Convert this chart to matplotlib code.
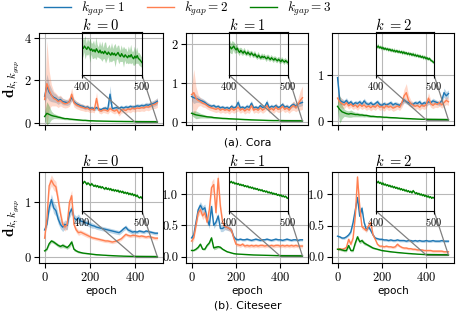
import matplotlib
matplotlib.use("Agg")
import matplotlib.pyplot as plt
import numpy as np
from matplotlib.lines import Line2D
from matplotlib.ticker import FormatStrFormatter
from mpl_toolkits.axes_grid1.inset_locator import mark_inset

plt.rcParams['mathtext.fontset'] = 'cm'
plt.rcParams['font.family'] = 'cmr10'
plt.rcParams['axes.formatter.use_mathtext'] = True

# epochs: every 10 for blue / coral, green is every 10 up to 390 then every 2 (zoomed part)
epochs = np.arange(0, 501, 10)
green_epochs = np.concatenate([np.arange(0, 400, 10), np.arange(400, 501, 2)])

# ---------------- Cora, k = 0 ----------------
c0_blue = [1.25, 1.75, 1.45, 1.30, 1.20, 1.15, 1.05, 1.10, 1.00, 0.98,
           0.95, 1.00, 1.20, 1.00, 0.90, 0.85, 0.80, 0.78, 0.72, 0.75,
           0.68, 0.70, 0.66, 0.72, 0.65, 0.62, 0.68, 0.70, 0.64, 1.35,
           0.66, 0.70, 0.72, 0.68, 0.74, 0.70, 0.75, 0.72, 0.78, 0.74,
           0.76, 0.80, 0.78, 0.82, 0.80, 0.85, 0.83, 0.88, 0.90, 0.95,
           1.02]
c0_blue_sd = [0.30, 0.55, 0.40, 0.30, 0.22, 0.20, 0.18, 0.16, 0.15, 0.14,
              0.13, 0.13, 0.16, 0.12, 0.12, 0.11, 0.10, 0.10, 0.10, 0.10,
              0.09, 0.09, 0.09, 0.10, 0.09, 0.09, 0.09, 0.10, 0.09, 0.40,
              0.09, 0.09, 0.10, 0.09, 0.10, 0.09, 0.10, 0.10, 0.10, 0.10,
              0.10, 0.11, 0.10, 0.11, 0.11, 0.12, 0.12, 0.13, 0.14, 0.15,
              0.16]
c0_coral = [1.10, 1.85, 1.55, 1.30, 1.15, 1.10, 1.00, 1.05, 0.95, 0.90,
            0.92, 1.00, 1.35, 0.95, 0.85, 0.80, 0.75, 0.72, 0.68, 0.70,
            0.62, 0.65, 0.60, 1.15, 0.60, 0.55, 0.62, 0.60, 0.55, 0.68,
            0.60, 0.55, 0.62, 0.45, 0.60, 0.62, 0.58, 0.66, 0.62, 0.70,
            0.65, 0.70, 0.68, 0.72, 0.70, 0.76, 0.74, 0.80, 0.85, 0.88,
            0.95]
c0_coral_sd = [0.30, 2.00, 0.90, 0.50, 0.35, 0.30, 0.28, 0.25, 0.22, 0.20,
               0.20, 0.22, 0.30, 0.20, 0.18, 0.17, 0.16, 0.15, 0.15, 0.15,
               0.14, 0.14, 0.13, 0.30, 0.13, 0.13, 0.13, 0.14, 0.13, 0.13,
               0.13, 0.13, 0.14, 0.13, 0.14, 0.14, 0.14, 0.14, 0.15, 0.15,
               0.15, 0.15, 0.15, 0.16, 0.16, 0.16, 0.17, 0.17, 0.18, 0.20,
               0.22]
c0_green = [0.30, 0.45, 0.40, 0.35, 0.32, 0.30, 0.27, 0.25, 0.22, 0.20,
            0.20, 0.18, 0.17, 0.16, 0.15, 0.14, 0.13, 0.12, 0.12, 0.11,
            0.10, 0.10, 0.095, 0.09, 0.088, 0.085, 0.082, 0.08, 0.078, 0.075,
            0.073, 0.072, 0.07, 0.069, 0.068, 0.066, 0.065, 0.064, 0.063, 0.062,
            0.0600, 0.0592, 0.0605, 0.0596, 0.0588, 0.0601, 0.0594, 0.0583, 0.0590, 0.0578,
            0.0586, 0.0575, 0.0591, 0.0580, 0.0571, 0.0584, 0.0569, 0.0576, 0.0566, 0.0579,
            0.0570, 0.0562, 0.0574, 0.0565, 0.0558, 0.0571, 0.0560, 0.0568, 0.0556, 0.0563,
            0.0572, 0.0559, 0.0551, 0.0566, 0.0555, 0.0548, 0.0560, 0.0552, 0.0545, 0.0557,
            0.0549, 0.0561, 0.0547, 0.0540, 0.0553, 0.0544, 0.0556, 0.0541, 0.0536, 0.0528,
            0.0520]
c0_green_sd = [0.20, 0.55, 0.40, 0.20, 0.12, 0.10, 0.08, 0.07, 0.06, 0.05,
               0.05, 0.045, 0.04, 0.04, 0.035, 0.035, 0.03, 0.03, 0.028, 0.026,
               0.025, 0.024, 0.022, 0.02, 0.02, 0.018, 0.018, 0.016, 0.016, 0.015,
               0.015, 0.014, 0.013, 0.012, 0.012, 0.011, 0.011, 0.01, 0.01, 0.01,
               0.0030, 0.0048, 0.0032, 0.0060, 0.0028, 0.0046, 0.0031, 0.0065, 0.0029, 0.0040,
               0.0047, 0.0030, 0.0058, 0.0032, 0.0027, 0.0044, 0.0033, 0.0052, 0.0029, 0.0041,
               0.0055, 0.0031, 0.0026, 0.0047, 0.0032, 0.0050, 0.0030, 0.0039, 0.0060, 0.0029,
               0.0035, 0.0048, 0.0027, 0.0043, 0.0031, 0.0054, 0.0030, 0.0040, 0.0028, 0.0046,
               0.0032, 0.0050, 0.0029, 0.0036, 0.0049, 0.0030, 0.0042, 0.0027, 0.0033, 0.0029,
               0.0026]

# ---------------- Cora, k = 1 ----------------
c1_blue = [0.65, 0.62, 0.60, 0.58, 0.55, 0.53, 0.50, 0.45, 0.42, 0.40,
           0.42, 0.38, 0.40, 0.36, 0.38, 0.35, 0.37, 0.34, 0.40, 0.36,
           0.38, 0.50, 0.36, 0.38, 0.35, 0.40, 0.37, 0.48, 0.36, 0.38,
           0.35, 0.42, 0.37, 0.39, 0.50, 0.36, 0.40, 0.38, 0.42, 0.37,
           0.39, 0.45, 0.38, 0.40, 0.36, 0.42, 0.45, 0.40, 0.46, 0.48,
           0.50]
c1_blue_sd = [0.10, 0.15, 0.10, 0.08, 0.07, 0.07, 0.06, 0.06, 0.06, 0.05,
              0.05, 0.05, 0.05, 0.05, 0.05, 0.05, 0.05, 0.05, 0.06, 0.05,
              0.05, 0.08, 0.05, 0.05, 0.05, 0.06, 0.05, 0.07, 0.05, 0.05,
              0.05, 0.06, 0.05, 0.05, 0.08, 0.05, 0.06, 0.05, 0.06, 0.05,
              0.05, 0.06, 0.05, 0.06, 0.05, 0.06, 0.07, 0.06, 0.07, 0.08,
              0.08]
c1_coral = [0.70, 0.75, 0.60, 0.55, 0.52, 0.48, 0.46, 0.42, 0.38, 0.36,
            0.34, 0.32, 0.35, 0.30, 0.33, 0.30, 0.32, 0.28, 0.35, 0.30,
            0.33, 0.38, 0.30, 0.34, 0.28, 0.33, 0.30, 0.42, 0.30, 0.33,
            0.30, 0.36, 0.30, 0.34, 0.42, 0.30, 0.35, 0.30, 0.38, 0.32,
            0.34, 0.40, 0.32, 0.36, 0.30, 0.38, 0.42, 0.36, 0.45, 0.55,
            0.62]
c1_coral_sd = [0.20, 0.60, 0.30, 0.15, 0.10, 0.10, 0.09, 0.09, 0.08, 0.08,
               0.08, 0.08, 0.09, 0.08, 0.08, 0.08, 0.08, 0.08, 0.09, 0.08,
               0.08, 0.10, 0.08, 0.08, 0.08, 0.09, 0.08, 0.10, 0.08, 0.08,
               0.08, 0.09, 0.08, 0.08, 0.10, 0.08, 0.09, 0.08, 0.10, 0.08,
               0.09, 0.10, 0.08, 0.09, 0.08, 0.10, 0.12, 0.10, 0.15, 0.25,
               0.30]
c1_green = [0.22, 0.20, 0.18, 0.17, 0.16, 0.15, 0.14, 0.13, 0.125, 0.12,
            0.11, 0.105, 0.10, 0.095, 0.09, 0.088, 0.085, 0.08, 0.078, 0.075,
            0.072, 0.07, 0.066, 0.063, 0.06, 0.058, 0.055, 0.052, 0.05, 0.048,
            0.046, 0.044, 0.042, 0.04, 0.038, 0.036, 0.035, 0.034, 0.034, 0.033,
            0.0330, 0.0334, 0.0326, 0.0331, 0.0337, 0.0328, 0.0322, 0.0329, 0.0318, 0.0312,
            0.0320, 0.0314, 0.0309, 0.0317, 0.0311, 0.0305, 0.0313, 0.0307, 0.0302, 0.0310,
            0.0304, 0.0299, 0.0306, 0.0298, 0.0293, 0.0301, 0.0295, 0.0290, 0.0297, 0.0292,
            0.0296, 0.0290, 0.0287, 0.0294, 0.0289, 0.0284, 0.0291, 0.0286, 0.0282, 0.0288,
            0.0283, 0.0279, 0.0285, 0.0280, 0.0276, 0.0283, 0.0278, 0.0274, 0.0280, 0.0275,
            0.0272]
c1_green_sd = [0.05, 0.08, 0.10, 0.08, 0.06, 0.05, 0.04, 0.035, 0.03, 0.03,
               0.025, 0.025, 0.02, 0.02, 0.02, 0.018, 0.018, 0.016, 0.015, 0.015,
               0.014, 0.013, 0.012, 0.012, 0.011, 0.01, 0.01, 0.009, 0.009, 0.008,
               0.008, 0.007, 0.007, 0.006, 0.006, 0.005, 0.005, 0.005, 0.004, 0.004,
               0.0018, 0.0024, 0.0020, 0.0026, 0.0016, 0.0021, 0.0014, 0.0019, 0.0012, 0.0015,
               0.0011, 0.0014, 0.0010, 0.0013, 0.0011, 0.0009, 0.0012, 0.0010, 0.0013, 0.0009,
               0.0011, 0.0010, 0.0012, 0.0009, 0.0011, 0.0013, 0.0010, 0.0009, 0.0012, 0.0010,
               0.0011, 0.0009, 0.0013, 0.0010, 0.0012, 0.0009, 0.0011, 0.0010, 0.0012, 0.0009,
               0.0011, 0.0010, 0.0009, 0.0012, 0.0010, 0.0011, 0.0009, 0.0012, 0.0010, 0.0009,
               0.0010]

# ---------------- Cora, k = 2 ----------------
c2_blue = [0.95, 0.45, 0.42, 0.40, 0.45, 0.38, 0.42, 0.36, 0.40, 0.38,
           0.42, 0.37, 0.44, 0.38, 0.36, 0.40, 0.35, 0.38, 0.42, 0.36,
           0.34, 0.38, 0.35, 0.37, 0.40, 0.35, 0.38, 0.36, 0.34, 0.40,
           0.46, 0.42, 0.40, 0.38, 0.36, 0.40, 0.38, 0.42, 0.36, 0.40,
           0.38, 0.42, 0.40, 0.44, 0.42, 0.40, 0.38, 0.45, 0.62, 0.55,
           0.60]
c2_blue_sd = [0.10, 0.08, 0.07, 0.06, 0.06, 0.05, 0.05, 0.05, 0.05, 0.05,
              0.05, 0.05, 0.06, 0.05, 0.05, 0.05, 0.05, 0.05, 0.05, 0.05,
              0.05, 0.05, 0.05, 0.05, 0.05, 0.05, 0.05, 0.05, 0.05, 0.05,
              0.06, 0.05, 0.05, 0.05, 0.05, 0.05, 0.05, 0.05, 0.05, 0.05,
              0.05, 0.06, 0.05, 0.06, 0.05, 0.05, 0.05, 0.07, 0.10, 0.09,
              0.08]
c2_coral = [0.50, 0.42, 0.38, 0.35, 0.40, 0.33, 0.37, 0.32, 0.35, 0.30,
            0.36, 0.32, 0.35, 0.30, 0.33, 0.29, 0.33, 0.30, 0.35, 0.30,
            0.32, 0.28, 0.34, 0.30, 0.32, 0.28, 0.30, 0.33, 0.30, 0.40,
            0.55, 0.62, 0.45, 0.38, 0.35, 0.32, 0.34, 0.30, 0.35, 0.32,
            0.36, 0.50, 0.38, 0.34, 0.38, 0.36, 0.40, 0.35, 0.40, 0.45,
            0.42]
c2_coral_sd = [0.10, 0.12, 0.10, 0.08, 0.08, 0.07, 0.07, 0.07, 0.07, 0.07,
               0.07, 0.07, 0.07, 0.07, 0.07, 0.07, 0.07, 0.07, 0.07, 0.07,
               0.07, 0.07, 0.07, 0.07, 0.07, 0.07, 0.07, 0.07, 0.07, 0.10,
               0.15, 0.20, 0.12, 0.08, 0.07, 0.07, 0.07, 0.07, 0.07, 0.07,
               0.08, 0.12, 0.08, 0.07, 0.08, 0.07, 0.08, 0.07, 0.08, 0.09,
               0.08]
c2_green = [0.32, 0.25, 0.20, 0.18, 0.16, 0.15, 0.16, 0.15, 0.14, 0.14,
            0.13, 0.13, 0.12, 0.12, 0.11, 0.10, 0.10, 0.095, 0.09, 0.09,
            0.085, 0.08, 0.08, 0.075, 0.072, 0.07, 0.068, 0.065, 0.06, 0.058,
            0.055, 0.052, 0.05, 0.048, 0.045, 0.043, 0.04, 0.038, 0.036, 0.035,
            0.0355, 0.0351, 0.0357, 0.0348, 0.0352, 0.0345, 0.0349, 0.0341, 0.0346, 0.0339,
            0.0343, 0.0336, 0.0341, 0.0333, 0.0338, 0.0331, 0.0335, 0.0328, 0.0334, 0.0326,
            0.0331, 0.0324, 0.0329, 0.0321, 0.0327, 0.0319, 0.0324, 0.0316, 0.0321, 0.0314,
            0.0319, 0.0311, 0.0317, 0.0309, 0.0313, 0.0306, 0.0311, 0.0303, 0.0308, 0.0300,
            0.0305, 0.0297, 0.0302, 0.0294, 0.0298, 0.0290, 0.0295, 0.0287, 0.0283, 0.0278,
            0.0274]
c2_green_sd = [0.10, 0.30, 0.15, 0.08, 0.07, 0.07, 0.08, 0.06, 0.05, 0.05,
               0.04, 0.04, 0.035, 0.03, 0.03, 0.025, 0.025, 0.02, 0.02, 0.02,
               0.018, 0.016, 0.015, 0.014, 0.013, 0.012, 0.011, 0.01, 0.01, 0.009,
               0.009, 0.008, 0.008, 0.007, 0.007, 0.006, 0.006, 0.005, 0.005, 0.005,
               0.0010, 0.0008, 0.0012, 0.0007, 0.0009, 0.0011, 0.0008, 0.0010, 0.0007, 0.0009,
               0.0008, 0.0011, 0.0007, 0.0009, 0.0010, 0.0008, 0.0012, 0.0007, 0.0009, 0.0008,
               0.0010, 0.0007, 0.0009, 0.0011, 0.0008, 0.0010, 0.0007, 0.0009, 0.0008, 0.0011,
               0.0007, 0.0009, 0.0010, 0.0008, 0.0012, 0.0007, 0.0009, 0.0008, 0.0010, 0.0007,
               0.0009, 0.0011, 0.0008, 0.0010, 0.0007, 0.0009, 0.0008, 0.0010, 0.0007, 0.0009,
               0.0008]

# ---------------- Citeseer, k = 0 ----------------
s0_blue = [0.50, 0.60, 0.90, 1.05, 0.90, 0.85, 0.70, 0.60, 0.55, 0.60,
           0.58, 0.80, 0.88, 0.72, 0.68, 0.72, 0.66, 0.65, 0.63, 0.62,
           0.60, 0.58, 0.57, 0.55, 0.54, 0.53, 0.52, 0.51, 0.50, 0.49,
           0.48, 0.47, 0.46, 0.45, 0.48, 0.52, 0.55, 0.50, 0.48, 0.46,
           0.47, 0.46, 0.48, 0.47, 0.46, 0.48, 0.47, 0.46, 0.45, 0.44,
           0.44]
s0_blue_sd = [0.04, 0.05, 0.08, 0.10, 0.10, 0.10, 0.09, 0.08, 0.08, 0.08,
              0.08, 0.08, 0.08, 0.07, 0.07, 0.07, 0.06, 0.06, 0.05, 0.05,
              0.05, 0.05, 0.04, 0.04, 0.04, 0.04, 0.04, 0.04, 0.04, 0.04,
              0.04, 0.04, 0.04, 0.04, 0.04, 0.04, 0.04, 0.04, 0.04, 0.04,
              0.03, 0.03, 0.03, 0.03, 0.03, 0.03, 0.03, 0.03, 0.03, 0.03,
              0.03]
s0_coral = [0.35, 0.70, 1.30, 1.40, 1.32, 1.28, 1.05, 0.80, 0.60, 0.55,
            0.60, 1.00, 1.12, 0.60, 0.50, 0.45, 0.46, 0.44, 0.42, 0.40,
            0.38, 0.36, 0.35, 0.34, 0.33, 0.32, 0.31, 0.30, 0.30, 0.29,
            0.28, 0.29, 0.30, 0.32, 0.34, 0.38, 0.42, 0.40, 0.39, 0.40,
            0.40, 0.39, 0.38, 0.39, 0.38, 0.37, 0.38, 0.37, 0.36, 0.35,
            0.35]
s0_coral_sd = [0.04, 0.06, 0.10, 0.10, 0.10, 0.10, 0.09, 0.08, 0.07, 0.07,
               0.08, 0.10, 0.10, 0.06, 0.05, 0.05, 0.04, 0.04, 0.04, 0.04,
               0.03, 0.03, 0.03, 0.03, 0.03, 0.03, 0.03, 0.03, 0.03, 0.03,
               0.03, 0.03, 0.03, 0.03, 0.03, 0.03, 0.03, 0.03, 0.03, 0.03,
               0.03, 0.03, 0.03, 0.03, 0.03, 0.03, 0.03, 0.03, 0.03, 0.03,
               0.03]
s0_green = [0.12, 0.15, 0.25, 0.30, 0.28, 0.25, 0.22, 0.20, 0.22, 0.20,
            0.18, 0.22, 0.28, 0.15, 0.12, 0.10, 0.09, 0.08, 0.075, 0.07,
            0.065, 0.06, 0.055, 0.05, 0.048, 0.045, 0.042, 0.04, 0.037, 0.035,
            0.033, 0.031, 0.029, 0.027, 0.026, 0.024, 0.023, 0.022, 0.021, 0.020,
            0.0200, 0.0197, 0.0202, 0.0199, 0.0194, 0.0198, 0.0195, 0.0191, 0.0196, 0.0193,
            0.0189, 0.0192, 0.0188, 0.0191, 0.0186, 0.0189, 0.0185, 0.0188, 0.0184, 0.0182,
            0.0186, 0.0181, 0.0184, 0.0180, 0.0183, 0.0178, 0.0181, 0.0177, 0.0180, 0.0176,
            0.0179, 0.0174, 0.0177, 0.0173, 0.0176, 0.0171, 0.0174, 0.0170, 0.0173, 0.0168,
            0.0171, 0.0167, 0.0170, 0.0165, 0.0168, 0.0163, 0.0166, 0.0161, 0.0159, 0.0162,
            0.0158]
s0_green_sd = [0.02, 0.02, 0.03, 0.03, 0.03, 0.03, 0.03, 0.03, 0.04, 0.03,
               0.03, 0.04, 0.04, 0.03, 0.02, 0.02, 0.015, 0.012, 0.01, 0.01,
               0.008, 0.008, 0.007, 0.007, 0.006, 0.006, 0.005, 0.005, 0.005, 0.004,
               0.004, 0.004, 0.003, 0.003, 0.003, 0.003, 0.003, 0.002, 0.002, 0.002,
               0.0003, 0.0004, 0.0002, 0.0003, 0.0004, 0.0003, 0.0002, 0.0003, 0.0004, 0.0003,
               0.0002, 0.0003, 0.0004, 0.0002, 0.0003, 0.0003, 0.0004, 0.0002, 0.0003, 0.0004,
               0.0003, 0.0002, 0.0003, 0.0004, 0.0003, 0.0002, 0.0003, 0.0004, 0.0002, 0.0003,
               0.0003, 0.0004, 0.0002, 0.0003, 0.0004, 0.0003, 0.0002, 0.0003, 0.0003, 0.0004,
               0.0002, 0.0003, 0.0004, 0.0003, 0.0002, 0.0003, 0.0004, 0.0003, 0.0002, 0.0003,
               0.0003]

# ---------------- Citeseer, k = 1 ----------------
s1_blue = [0.30, 0.35, 0.55, 0.75, 0.82, 0.75, 0.78, 0.60, 0.50, 0.80,
           0.50, 0.55, 0.65, 0.45, 0.45, 0.48, 0.47, 0.45, 0.42, 0.32,
           0.28, 0.27, 0.28, 0.27, 0.27, 0.28, 0.27, 0.26, 0.27, 0.28,
           0.27, 0.26, 0.27, 0.27, 0.28, 0.27, 0.26, 0.27, 0.28, 0.27,
           0.27, 0.26, 0.27, 0.28, 0.27, 0.26, 0.27, 0.27, 0.26, 0.27,
           0.27]
s1_blue_sd = [0.03, 0.03, 0.05, 0.06, 0.06, 0.06, 0.06, 0.05, 0.05, 0.06,
              0.05, 0.05, 0.05, 0.05, 0.05, 0.05, 0.05, 0.04, 0.04, 0.03,
              0.02, 0.02, 0.02, 0.02, 0.02, 0.02, 0.02, 0.02, 0.02, 0.02,
              0.02, 0.02, 0.02, 0.02, 0.02, 0.02, 0.02, 0.02, 0.02, 0.02,
              0.02, 0.02, 0.02, 0.02, 0.02, 0.02, 0.02, 0.02, 0.02, 0.02,
              0.02]
s1_coral = [0.25, 0.30, 0.50, 0.70, 0.75, 0.65, 0.70, 0.55, 0.75, 1.10,
            1.15, 0.70, 1.25, 0.80, 0.55, 0.48, 0.47, 0.45, 0.42, 0.30,
            0.20, 0.19, 0.18, 0.20, 0.17, 0.18, 0.17, 0.18, 0.17, 0.18,
            0.17, 0.18, 0.18, 0.17, 0.18, 0.17, 0.18, 0.17, 0.18, 0.18,
            0.17, 0.18, 0.17, 0.18, 0.17, 0.18, 0.17, 0.18, 0.17, 0.17,
            0.17]
s1_coral_sd = [0.04, 0.04, 0.05, 0.06, 0.06, 0.06, 0.06, 0.06, 0.08, 0.10,
               0.10, 0.08, 0.10, 0.08, 0.05, 0.04, 0.04, 0.04, 0.04, 0.03,
               0.03, 0.03, 0.03, 0.03, 0.03, 0.03, 0.03, 0.03, 0.03, 0.03,
               0.03, 0.03, 0.03, 0.03, 0.03, 0.03, 0.03, 0.03, 0.03, 0.03,
               0.03, 0.03, 0.03, 0.03, 0.03, 0.03, 0.03, 0.03, 0.03, 0.03,
               0.03]
s1_green = [0.10, 0.10, 0.12, 0.15, 0.20, 0.12, 0.12, 0.18, 0.22, 0.30,
            0.14, 0.15, 0.16, 0.15, 0.12, 0.10, 0.08, 0.07, 0.06, 0.05,
            0.045, 0.042, 0.04, 0.038, 0.036, 0.034, 0.032, 0.03, 0.028, 0.027,
            0.026, 0.025, 0.024, 0.023, 0.022, 0.021, 0.02, 0.019, 0.018, 0.017,
            0.0170, 0.0168, 0.0171, 0.0167, 0.0169, 0.0165, 0.0167, 0.0164, 0.0166, 0.0162,
            0.0164, 0.0161, 0.0163, 0.0159, 0.0161, 0.0158, 0.0160, 0.0156, 0.0158, 0.0155,
            0.0157, 0.0153, 0.0155, 0.0152, 0.0154, 0.0150, 0.0152, 0.0149, 0.0151, 0.0147,
            0.0149, 0.0146, 0.0148, 0.0144, 0.0146, 0.0143, 0.0145, 0.0141, 0.0143, 0.0140,
            0.0142, 0.0138, 0.0140, 0.0137, 0.0139, 0.0135, 0.0137, 0.0134, 0.0136, 0.0132,
            0.0131]
s1_green_sd = [0.01, 0.01, 0.015, 0.02, 0.02, 0.015, 0.015, 0.02, 0.02, 0.03,
               0.03, 0.03, 0.02, 0.02, 0.015, 0.012, 0.01, 0.008, 0.007, 0.006,
               0.005, 0.005, 0.004, 0.004, 0.004, 0.004, 0.003, 0.003, 0.003, 0.003,
               0.003, 0.003, 0.002, 0.002, 0.002, 0.002, 0.002, 0.002, 0.002, 0.002,
               0.0002, 0.0003, 0.0002, 0.0002, 0.0003, 0.0002, 0.0002, 0.0003, 0.0002, 0.0002,
               0.0003, 0.0002, 0.0002, 0.0003, 0.0002, 0.0002, 0.0003, 0.0002, 0.0002, 0.0003,
               0.0002, 0.0002, 0.0003, 0.0002, 0.0002, 0.0003, 0.0002, 0.0002, 0.0003, 0.0002,
               0.0002, 0.0003, 0.0002, 0.0002, 0.0003, 0.0002, 0.0002, 0.0003, 0.0002, 0.0002,
               0.0003, 0.0002, 0.0002, 0.0003, 0.0002, 0.0002, 0.0003, 0.0002, 0.0002, 0.0003,
               0.0002]

# ---------------- Citeseer, k = 2 ----------------
s2_blue = [0.33, 0.32, 0.30, 0.30, 0.32, 0.35, 0.40, 0.55, 0.75, 0.95,
           0.65, 0.78, 0.55, 0.43, 0.48, 0.42, 0.35, 0.30, 0.29, 0.28,
           0.28, 0.27, 0.27, 0.26, 0.27, 0.26, 0.26, 0.27, 0.26, 0.26,
           0.26, 0.25, 0.26, 0.26, 0.25, 0.26, 0.25, 0.26, 0.25, 0.25,
           0.26, 0.25, 0.25, 0.26, 0.25, 0.25, 0.25, 0.26, 0.25, 0.25,
           0.25]
s2_blue_sd = [0.02, 0.02, 0.02, 0.02, 0.02, 0.02, 0.03, 0.03, 0.04, 0.04,
              0.04, 0.04, 0.03, 0.03, 0.03, 0.03, 0.02, 0.02, 0.02, 0.02,
              0.02, 0.02, 0.02, 0.02, 0.02, 0.02, 0.02, 0.02, 0.02, 0.02,
              0.02, 0.02, 0.02, 0.02, 0.02, 0.02, 0.02, 0.02, 0.02, 0.02,
              0.02, 0.02, 0.02, 0.02, 0.02, 0.02, 0.02, 0.02, 0.02, 0.02,
              0.02]
s2_coral = [0.12, 0.13, 0.12, 0.13, 0.15, 0.28, 0.20, 0.30, 0.65, 1.28,
            0.80, 0.48, 0.45, 0.42, 0.50, 0.55, 0.35, 0.28, 0.20, 0.17,
            0.17, 0.16, 0.17, 0.16, 0.16, 0.15, 0.16, 0.20, 0.17, 0.15,
            0.14, 0.14, 0.13, 0.13, 0.12, 0.12, 0.11, 0.11, 0.11, 0.10,
            0.10, 0.10, 0.10, 0.09, 0.09, 0.09, 0.09, 0.09, 0.08, 0.08,
            0.08]
s2_coral_sd = [0.02, 0.02, 0.02, 0.02, 0.02, 0.03, 0.03, 0.03, 0.04, 0.05,
               0.04, 0.04, 0.03, 0.03, 0.03, 0.03, 0.03, 0.02, 0.02, 0.02,
               0.02, 0.02, 0.02, 0.02, 0.02, 0.02, 0.02, 0.03, 0.02, 0.02,
               0.02, 0.02, 0.02, 0.02, 0.02, 0.02, 0.02, 0.02, 0.02, 0.02,
               0.02, 0.02, 0.02, 0.02, 0.02, 0.02, 0.02, 0.02, 0.02, 0.02,
               0.02]
s2_green = [0.12, 0.12, 0.11, 0.10, 0.10, 0.18, 0.10, 0.10, 0.22, 0.32,
            0.24, 0.26, 0.22, 0.20, 0.18, 0.16, 0.14, 0.13, 0.12, 0.11,
            0.10, 0.095, 0.09, 0.085, 0.08, 0.076, 0.072, 0.068, 0.065, 0.062,
            0.058, 0.055, 0.052, 0.05, 0.047, 0.045, 0.042, 0.04, 0.038, 0.036,
            0.0360, 0.0357, 0.0361, 0.0355, 0.0358, 0.0352, 0.0356, 0.0350, 0.0353, 0.0348,
            0.0351, 0.0346, 0.0349, 0.0344, 0.0347, 0.0342, 0.0345, 0.0340, 0.0343, 0.0338,
            0.0341, 0.0336, 0.0339, 0.0334, 0.0337, 0.0332, 0.0335, 0.0330, 0.0333, 0.0328,
            0.0331, 0.0326, 0.0333, 0.0329, 0.0324, 0.0327, 0.0322, 0.0325, 0.0320, 0.0323,
            0.0318, 0.0321, 0.0316, 0.0319, 0.0314, 0.0317, 0.0312, 0.0315, 0.0310, 0.0313,
            0.0311]
s2_green_sd = [0.02, 0.02, 0.02, 0.02, 0.02, 0.03, 0.02, 0.02, 0.03, 0.03,
               0.03, 0.03, 0.03, 0.02, 0.02, 0.02, 0.015, 0.012, 0.01, 0.01,
               0.008, 0.008, 0.007, 0.007, 0.006, 0.006, 0.005, 0.005, 0.005, 0.004,
               0.004, 0.004, 0.003, 0.003, 0.003, 0.003, 0.003, 0.002, 0.002, 0.002,
               0.0003, 0.0002, 0.0004, 0.0003, 0.0002, 0.0003, 0.0004, 0.0002, 0.0003, 0.0003,
               0.0002, 0.0004, 0.0003, 0.0002, 0.0003, 0.0003, 0.0004, 0.0002, 0.0003, 0.0002,
               0.0003, 0.0004, 0.0002, 0.0003, 0.0003, 0.0002, 0.0004, 0.0003, 0.0002, 0.0003,
               0.0003, 0.0002, 0.0004, 0.0003, 0.0002, 0.0003, 0.0004, 0.0002, 0.0003, 0.0003,
               0.0002, 0.0004, 0.0003, 0.0002, 0.0003, 0.0003, 0.0004, 0.0002, 0.0003, 0.0002,
               0.0003]

titles = ['0', '1', '2']
legend_labels = [r'$k_{gap}=1$', r'$k_{gap}=2$', r'$k_{gap}=3$']
colors = ['#1f77b4', '#ff7f50', '#008000']

W, H = 465, 317
fig = plt.figure(figsize=(W / 100, H / 100), dpi=100)


def px(x0, y0, x1, y1):
    # pixel box -> figure fraction
    return [x0 / W, 1 - y1 / H, (x1 - x0) / W, (y1 - y0) / H]


def draw_panel(box, inset_box, k, yticks, ylim, series, bottom_row, left_col):
    ax = fig.add_axes(px(*box))
    ax.set_axisbelow(True)
    ax.grid(True, color='#b8b8b8', lw=0.8)
    (b, bsd), (c, csd), (g, gsd) = series
    for x, y, sd, col in [(epochs, b, bsd, colors[0]), (epochs, c, csd, colors[1]),
                          (green_epochs, g, gsd, colors[2])]:
        y = np.array(y)
        sd = np.array(sd)
        ax.fill_between(x, y - sd, y + sd, color=col, alpha=0.3, lw=0)
        ax.plot(x, y, color=col, lw=1.0)
    ax.set_xlim(-25, 525)
    ax.set_ylim(*ylim)
    ax.set_xticks([0, 200, 400])
    ax.set_yticks(yticks)
    ax.tick_params(labelsize=9, length=3.5, width=0.8, pad=2)
    if not bottom_row:
        ax.set_xticklabels([])
    else:
        ax.set_xlabel('epoch', family='DejaVu Sans', fontsize=7.5, labelpad=2)
    if left_col:
        ax.set_ylabel(r'$\mathbf{d}_{k,k_{gap}}$', fontsize=11, labelpad=2)
    ax.set_title(r'$k\ =$' + k, fontsize=10.5, pad=4.1 if bottom_row else 2.4)

    # zoomed inset on the green curve, epochs 400-500
    axins = fig.add_axes(px(*inset_box))
    axins.patch.set_alpha(0)
    g = np.array(g)
    gsd = np.array(gsd)
    axins.fill_between(green_epochs, g - gsd, g + gsd, color=colors[2], alpha=0.3, lw=0)
    axins.plot(green_epochs, g, color=colors[2], lw=1.0)
    sel = green_epochs >= 400
    lo = g[sel].min()
    hi = g[sel].max()
    r = hi - lo
    axins.set_xlim(400, 500)
    axins.set_ylim(lo - 0.75 * r, hi + 0.85 * r)
    axins.set_yticks([])
    axins.set_xticks([400, 500])
    axins.tick_params(labelsize=7.5, length=2, pad=1.5)
    mark_inset(ax, axins, loc1=3, loc2=4, fc='none', ec='0.5', lw=0.9)
    return ax


cols = [(39, 163), (186, 308), (332, 454)]
inset_cols = [(82, 142), (229, 288), (376, 434)]

cora = [
    ([0, 2, 4], (-0.1, 4.23), [(c0_blue, c0_blue_sd), (c0_coral, c0_coral_sd), (c0_green, c0_green_sd)]),
    ([0, 1, 2], (-0.08, 2.28), [(c1_blue, c1_blue_sd), (c1_coral, c1_coral_sd), (c1_green, c1_green_sd)]),
    ([0, 1], (-0.09, 1.93), [(c2_blue, c2_blue_sd), (c2_coral, c2_coral_sd), (c2_green, c2_green_sd)]),
]
citeseer = [
    ([0, 1], (-0.1, 1.55), [(s0_blue, s0_blue_sd), (s0_coral, s0_coral_sd), (s0_green, s0_green_sd)]),
    ([0.0, 0.5, 1.0], (-0.1, 1.35), [(s1_blue, s1_blue_sd), (s1_coral, s1_coral_sd), (s1_green, s1_green_sd)]),
    ([0.0, 0.5, 1.0], (-0.1, 1.36), [(s2_blue, s2_blue_sd), (s2_coral, s2_coral_sd), (s2_green, s2_green_sd)]),
]

for i in range(3):
    yt, yl, ser = cora[i]
    draw_panel((cols[i][0], 33, cols[i][1], 125), (inset_cols[i][0], 32, inset_cols[i][1], 75),
               titles[i], yt, yl, ser, False, i == 0)
    yt, yl, ser = citeseer[i]
    ax = draw_panel((cols[i][0], 172, cols[i][1], 263), (inset_cols[i][0], 167, inset_cols[i][1], 211),
                    titles[i], yt, yl, ser, True, i == 0)
    if i in (1, 2):
        ax.yaxis.set_major_formatter(FormatStrFormatter('%.1f'))

fig.text(248 / W, 1 - 142.5 / H, '(a). Cora', family='DejaVu Sans', fontsize=7.8, ha='center', va='center')
fig.text(248 / W, 1 - 305 / H, '(b). Citeseer', family='DejaVu Sans', fontsize=7.8, ha='center', va='center')

handles = [Line2D([], [], color=c, lw=1.0) for c in colors]
fig.legend(handles, legend_labels, loc='center', bbox_to_anchor=(187.5 / W, 1 - 8.5 / H), ncol=3,
           frameon=False, fontsize=9.5, handlelength=2.05, handletextpad=0.75, columnspacing=1.65,
           borderpad=0)

fig.savefig('out.png', dpi=100)
